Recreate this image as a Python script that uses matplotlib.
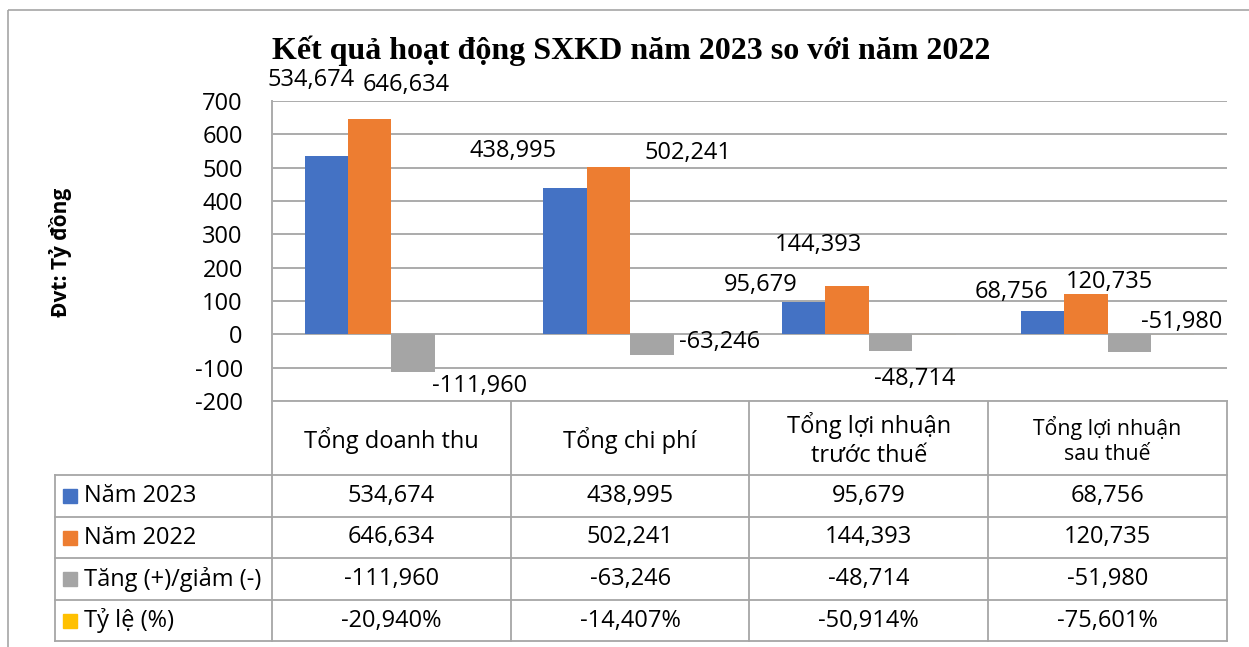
#! /usr/bin/env python
# coding: utf-8

import numpy as np
from matplotlib import pyplot as plt
from matplotlib.patches import Rectangle

plt.rcParams['font.family'] = ['Open Sans', 'DejaVu Sans']
plt.rcParams['axes.unicode_minus'] = False

# ---- data -------------------------------------------------------------
categories = ["Tổng doanh thu", "Tổng chi phí",
              "Tổng lợi nhuận\ntrước thuế", "Tổng lợi nhuận\nsau thuế"]
series_names = ["Năm 2023", "Năm 2022", "Tăng (+)/giảm (-)", "Tỷ lệ (%)"]
nam_2023 = [534.674, 438.995, 95.679, 68.756]
nam_2022 = [646.634, 502.241, 144.393, 120.735]
tang_giam = [-111.960, -63.246, -48.714, -51.980]
ty_le = [-20.940, -14.407, -50.914, -75.601]   # percent
y_ticks = [-200, -100, 0, 100, 200, 300, 400, 500, 600, 700]

colors = ["#4472C4", "#ED7D31", "#A5A5A5", "#FFC000"]
# label offsets (pixels) from the bar end, hand moved in the original
label_offsets = [
    [(-15, 76), (-52, 37), (-43, 17), (-31, 19)],
    [(37, 34), (80, 14), (-29, 41), (24, 12)],
    [(66, -14), (68, 13), (24, -28), (52, 30)],
]
FS = 17


def fmt(v, pct=False):
    s = "{:.3f}".format(v).replace('.', ',')
    return s + "%" if pct else s


W, H = 1249, 647
fig = plt.figure(figsize=(W / 100, H / 100), dpi=100)

# background layer in pixel coords: frame, title, table
bg = fig.add_axes([0, 0, 1, 1])
bg.set_xlim(0, W)
bg.set_ylim(H, 0)
bg.axis('off')
bg.add_patch(Rectangle((8, 10), 1400, 800, fill=False, ec="#A6A6A6", lw=1.2))
bg.text(631, 51, "Kết quả hoạt động SXKD năm 2023 so với năm 2022",
        family="Liberation Serif", weight="bold", fontsize=23,
        ha="center", va="center")
bg.text(61, 252, "Đvt: Tỷ đồng", rotation=90, weight="bold", fontsize=15,
        ha="center", va="center")

# ---- chart ------------------------------------------------------------
x0, x1, ytop, ybot = 272, 1227, 101, 401
ax = fig.add_axes([x0 / W, 1 - ybot / H, (x1 - x0) / W, (ybot - ytop) / H])
ax.patch.set_alpha(0)
ax.set_xlim(-0.5, 3.5)
ax.set_ylim(-200, 700)
for t in y_ticks:
    ax.axhline(t, color="#ABABAB", lw=1.4, zorder=1)
for s in ["top", "right", "bottom"]:
    ax.spines[s].set_visible(False)
ax.spines["left"].set_color("#ABABAB")
ax.spines["left"].set_linewidth(1.4)
ax.set_yticks(y_ticks)
ax.set_xticks([])
ax.tick_params(axis="y", length=0, pad=21, labelsize=FS)

x = np.arange(len(categories))
bw = 1 / (len(series_names) + 1.5)
all_series = [nam_2023, nam_2022, tang_giam, [v / 100 for v in ty_le]]
for k, vals in enumerate(all_series):
    xs = x + (k - 1.5) * bw
    ax.bar(xs, vals, width=bw, color=colors[k], zorder=2 if k < 3 else 0.5)
    if k < 3:
        for i, v in enumerate(vals):
            dx, dy = label_offsets[k][i]
            ax.annotate(fmt(v), (xs[i], v), xytext=(dx, dy),
                        textcoords="offset pixels", ha="center", va="center",
                        fontsize=FS, annotation_clip=False)

# ---- data table -------------------------------------------------------
col_x = [x0 + (x1 - x0) / 4 * i for i in range(5)]
tab_left = 55
row_y = [401, 475, 517, 558, 600, 641]
line_kw = dict(color="#A6A6A6", lw=1.3)
bg.plot([x0, x1], [row_y[0], row_y[0]], **line_kw)
for yy in row_y[1:]:
    bg.plot([tab_left, x1], [yy, yy], **line_kw)
for cx in col_x:
    bg.plot([cx, cx], [row_y[0], row_y[-1]], **line_kw)
bg.plot([tab_left, tab_left], [row_y[1], row_y[-1]], **line_kw)

head_sizes = [FS, FS, FS, 15.3]
for i, c in enumerate(categories):
    bg.text((col_x[i] + col_x[i + 1]) / 2, (row_y[0] + row_y[1]) / 2 + 2, c,
            ha="center", va="center", fontsize=head_sizes[i], linespacing=1.25)

table_rows = [[fmt(v) for v in nam_2023], [fmt(v) for v in nam_2022],
              [fmt(v) for v in tang_giam], [fmt(v, True) for v in ty_le]]
for r, name in enumerate(series_names):
    yc = (row_y[r + 1] + row_y[r + 2]) / 2
    bg.add_patch(Rectangle((63, yc - 7), 14, 14, color=colors[r]))
    bg.text(84, yc, name, ha="left", va="center", fontsize=FS)
    for i, s in enumerate(table_rows[r]):
        bg.text((col_x[i] + col_x[i + 1]) / 2, yc, s,
                ha="center", va="center", fontsize=FS)

fig.savefig("out.png", dpi=100)
